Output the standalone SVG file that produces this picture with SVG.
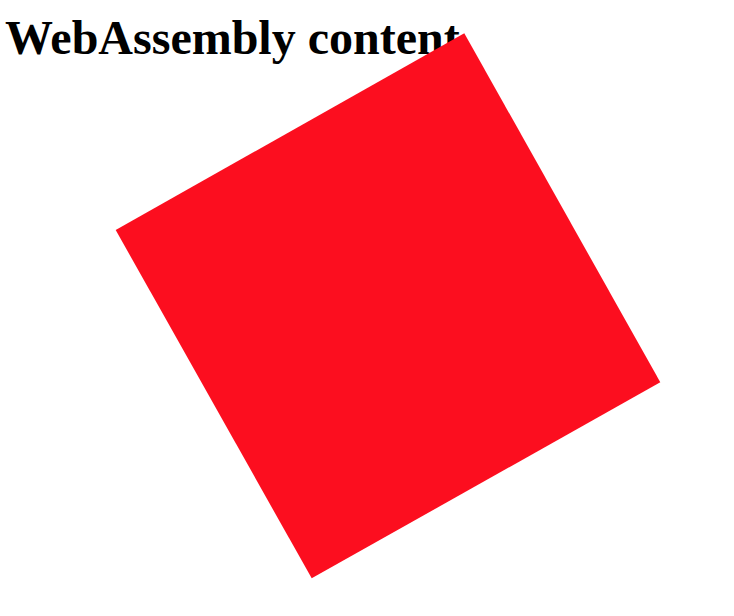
<svg xmlns="http://www.w3.org/2000/svg" width="734" height="616" viewBox="0 0 734 616">
<style>
.h{font-family:"Liberation Serif","Times New Roman",serif;font-weight:bold;font-size:48px;fill:#000}
</style>
<rect width="734" height="616" fill="#fff"/>
<text class="h" x="5" y="54">WebAssembly content</text>
<polygon points="464.3,33.3 660.3,382.3 311.7,578.3 115.7,230" fill="#fc0e1f"/>
</svg>
